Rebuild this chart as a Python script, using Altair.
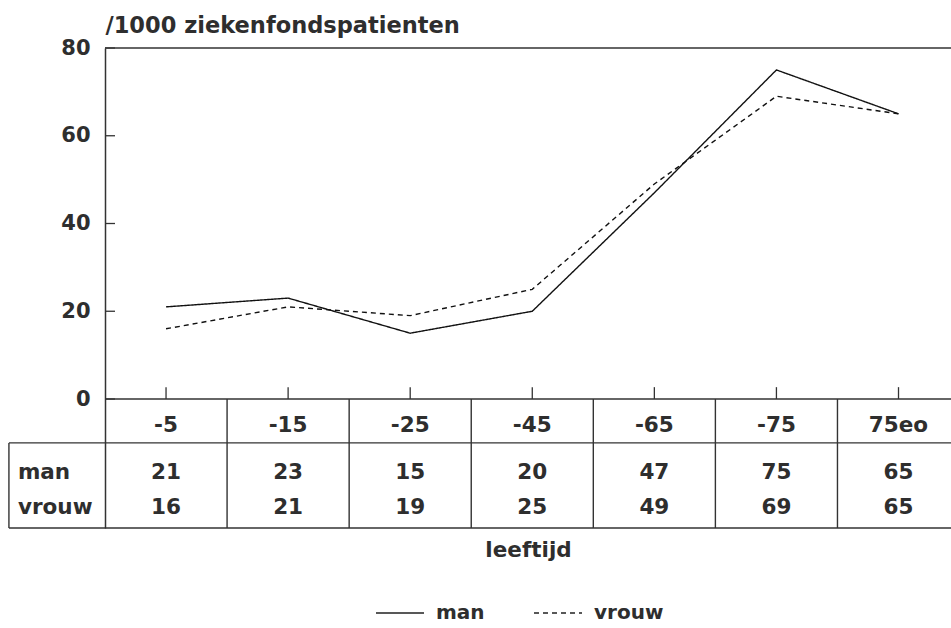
import altair as alt
import pandas as pd

# ---- data ----
categories = ["-5", "-15", "-25", "-45", "-65", "-75", "75eo"]
man = [21, 23, 15, 20, 47, 75, 65]
vrouw = [16, 21, 19, 25, 49, 69, 65]
series_names = ["man", "vrouw"]
y_ticks = [0, 20, 40, 60, 80]

# ---- layout (data units) ----
X_MIN, X_MAX = -0.5, 6.43
Y_MIN, Y_MAX = -29.4, 80
ROW_HEADER = -6.15
ROW_MAN = -16.9
ROW_VROUW = -24.85
ROW_SPLIT = -10.0
LABEL_BOX_X = -1.287
LABEL_X = -1.213
XTICK_LEN = 2.7
YTICK_LEN = 0.082

FONT = "DejaVu Sans"
FW = "bold"
FS = 21.5
TEXT = "#2e2e2e"
LINE = "#333333"

idx = list(range(len(categories)))
n = len(categories)

xs = alt.Scale(domain=[X_MIN, X_MAX], nice=False, zero=False)
ys = alt.Scale(domain=[Y_MIN, Y_MAX], nice=False, zero=False)

XAXIS = alt.Axis(title="leeftijd", labels=False, ticks=False, domain=False,
                 grid=False, titleFont=FONT, titleFontSize=FS, titleFontWeight=FW,
                 titleColor=TEXT, titlePadding=11)
YAXIS = alt.Axis(values=y_ticks, grid=False, ticks=False, domain=True,
                 domainColor=LINE, domainWidth=1.5,
                 labelPadding=15, labelFont=FONT, labelFontSize=21,
                 labelFontWeight=FW, labelColor=TEXT,
                 title="/1000 ziekenfondspatienten", titleAngle=0,
                 titleX=0, titleY=-23, titleAlign="left", titleBaseline="middle",
                 titleFont=FONT, titleFontSize=22.5, titleFontWeight=FW,
                 titleColor=TEXT)


def X(field):
    return alt.X(field, scale=xs, axis=XAXIS)


def Y(field):
    return alt.Y(field, scale=ys, axis=YAXIS)


lines_df = pd.DataFrame({
    "i": idx * 2,
    "value": man + vrouw,
    "series": ["man"] * n + ["vrouw"] * n,
})

lines = alt.Chart(lines_df).mark_line(color="#111111", strokeWidth=1.4).encode(
    x=X("i:Q"),
    y=Y("value:Q"),
    strokeDash=alt.StrokeDash("series:N",
                              scale=alt.Scale(domain=series_names, range=[[1, 0], [5, 4]]),
                              legend=alt.Legend(title=None, orient="none", legendX=270, legendY=540,
                                                direction="horizontal", symbolType="stroke",
                                                symbolSize=2304, symbolStrokeWidth=1.3,
                                                symbolStrokeColor="#222222",
                                                labelFont=FONT, labelFontSize=20,
                                                labelFontWeight=FW, labelColor=TEXT,
                                                labelOffset=11, columnPadding=46, padding=0)),
    detail="series:N",
)

# horizontal frame lines
h_df = pd.DataFrame({
    "x": [X_MIN, X_MIN, LABEL_BOX_X, LABEL_BOX_X],
    "x2": [X_MAX] * 4,
    "y": [Y_MAX, 0, ROW_SPLIT, Y_MIN],
})
hrules = alt.Chart(h_df).mark_rule(color=LINE, strokeWidth=1.4).encode(
    x=X("x:Q"), x2="x2:Q", y=Y("y:Q"))

# vertical cell borders
v_df = pd.DataFrame({
    "x": [k + 0.5 for k in idx[:-1]] + [LABEL_BOX_X],
    "y": [Y_MIN] * (n - 1) + [Y_MIN],
    "y2": [0] * (n - 1) + [ROW_SPLIT],
})
vrules = alt.Chart(v_df).mark_rule(color=LINE, strokeWidth=1.4).encode(
    x=X("x:Q"), y=Y("y:Q"), y2="y2:Q")

# x ticks (inward)
xt_df = pd.DataFrame({"i": idx, "y": [0] * n, "y2": [XTICK_LEN] * n})
xticks = alt.Chart(xt_df).mark_rule(color=LINE, strokeWidth=1.3).encode(
    x=X("i:Q"), y=Y("y:Q"), y2="y2:Q")

# y ticks (inward)
yt_df = pd.DataFrame({"v": y_ticks, "x": [X_MIN] * len(y_ticks),
                      "x2": [X_MIN + YTICK_LEN] * len(y_ticks)})
yticks = alt.Chart(yt_df).mark_rule(color=LINE, strokeWidth=1.3).encode(
    x=X("x:Q"), x2="x2:Q", y=Y("v:Q"))

# table header
hd_df = pd.DataFrame({"i": idx, "label": categories, "row": [ROW_HEADER] * n})
header = alt.Chart(hd_df).mark_text(font=FONT, fontSize=FS, fontWeight=FW, color=TEXT,
                                    baseline="middle").encode(
    x=X("i:Q"), y=Y("row:Q"), text="label:N")

# table values
tv_df = pd.DataFrame({
    "i": idx * 2,
    "value": man + vrouw,
    "row": [ROW_MAN] * n + [ROW_VROUW] * n,
})
values = alt.Chart(tv_df).mark_text(font=FONT, fontSize=FS, fontWeight=FW, color=TEXT,
                                    baseline="middle").encode(
    x=X("i:Q"), y=Y("row:Q"), text="value:Q")

# row labels
rl_df = pd.DataFrame({"name": series_names, "row": [ROW_MAN, ROW_VROUW],
                      "x": [LABEL_X, LABEL_X]})
rowlabels = alt.Chart(rl_df).mark_text(font=FONT, fontSize=FS, fontWeight=FW, color=TEXT,
                                       baseline="middle", align="left").encode(
    x=X("x:Q"), y=Y("row:Q"), text="name:N")

chart = alt.layer(lines, hrules, vrules, xticks, yticks, header, values, rowlabels).properties(
    width=846, height=480,
    autosize=alt.AutoSizeParams(type="none"),
    padding={"left": 105, "top": 48, "right": 0, "bottom": 100},
    background="white",
).configure_view(stroke=None)

chart.save("out.html", embed_options={"renderer": "svg", "actions": False})
